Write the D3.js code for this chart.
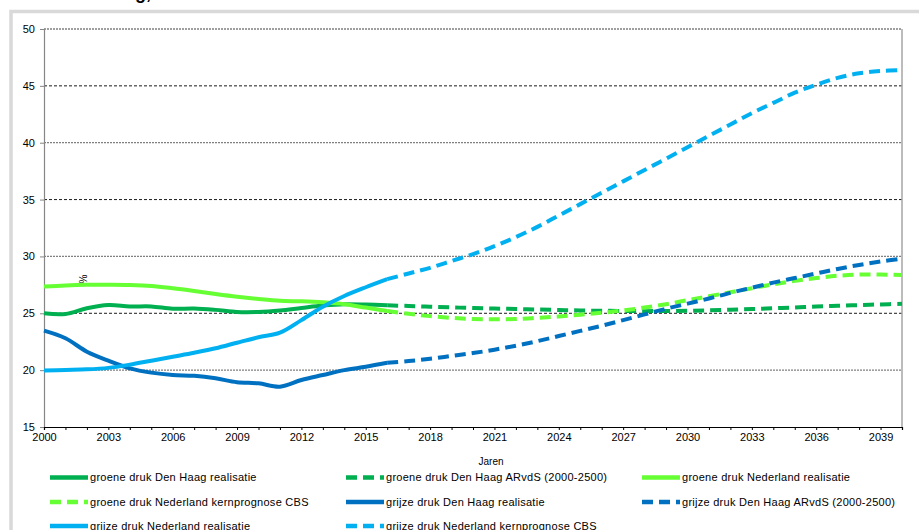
<!DOCTYPE html>
<html>
<head>
<meta charset="utf-8">
<script src="https://cdn.jsdelivr.net/npm/d3@7"></script>
<style>
  html, body { margin: 0; padding: 0; background: #fff; }
  svg { display: block; font-family: "Liberation Sans", Arial, sans-serif; }
</style>
</head>
<body>
<svg id="chart" width="919" height="530"></svg>
<script>
// ---- data ----
const yearsReal = [2000,2001,2002,2003,2004,2005,2006,2007,2008,2009,2010,2011,2012,2013,2014,2015,2016];
const yearsProj = [2016,2017,2018,2019,2020,2021,2022,2023,2024,2025,2026,2027,2028,2029,2030,2031,2032,2033,2034,2035,2036,2037,2038,2039,2040];

const groeneDHReal = [25.0,24.94,25.44,25.72,25.6,25.6,25.4,25.42,25.3,25.12,25.12,25.25,25.47,25.68,25.8,25.77,25.7];
const groeneDHProj = [25.7,25.64,25.58,25.52,25.46,25.42,25.38,25.33,25.29,25.25,25.22,25.2,25.19,25.2,25.22,25.26,25.31,25.37,25.44,25.51,25.6,25.66,25.72,25.78,25.84];
const groeneNLReal = [27.35,27.45,27.5,27.5,27.48,27.4,27.2,26.96,26.7,26.46,26.26,26.1,26.05,25.96,25.8,25.5,25.2];
const groeneNLProj = [25.2,24.95,24.75,24.6,24.5,24.47,24.5,24.6,24.72,24.88,25.05,25.25,25.5,25.8,26.15,26.5,26.85,27.2,27.55,27.85,28.1,28.3,28.4,28.4,28.37];
const grijzeDHReal = [23.47,22.8,21.62,20.83,20.16,19.78,19.57,19.5,19.28,18.93,18.84,18.55,19.13,19.57,20.0,20.3,20.65];
const grijzeDHProj = [20.65,20.8,21.0,21.25,21.5,21.8,22.15,22.55,23.0,23.45,23.9,24.4,24.9,25.4,25.85,26.3,26.8,27.25,27.7,28.1,28.5,28.9,29.25,29.55,29.8];
const grijzeNLReal = [19.97,20.02,20.07,20.2,20.48,20.83,21.18,21.53,21.92,22.41,22.89,23.3,24.4,25.58,26.52,27.29,28.0];
const grijzeNLProj = [28.0,28.5,29.0,29.6,30.2,30.9,31.7,32.6,33.6,34.6,35.6,36.6,37.6,38.6,39.6,40.6,41.6,42.6,43.5,44.4,45.1,45.7,46.1,46.3,46.4];

const seriesNames = [
  "groene druk Den Haag realisatie",
  "groene druk Den Haag ARvdS (2000-2500)",
  "groene druk Nederland realisatie",
  "groene druk Nederland kernprognose CBS",
  "grijze druk Den Haag realisatie",
  "grijze druk Den Haag ARvdS (2000-2500)",
  "grijze druk Nederland realisatie",
  "grijze druk Nederland kernprognose CBS"
];
const yTicks = [15,20,25,30,35,40,45,50];
const xTickLabels = [2000,2003,2006,2009,2012,2015,2018,2021,2024,2027,2030,2033,2036,2039];

// ---- build series ----
const colors = {gDH:"#00b050", gNL:"#66ff33", bDH:"#0070c0", bNL:"#00b0f0"};
const series = [
  {name: seriesNames[0], x: yearsReal, y: groeneDHReal, color: colors.gDH, dashed: false},
  {name: seriesNames[1], x: yearsProj, y: groeneDHProj, color: colors.gDH, dashed: true},
  {name: seriesNames[2], x: yearsReal, y: groeneNLReal, color: colors.gNL, dashed: false},
  {name: seriesNames[3], x: yearsProj, y: groeneNLProj, color: colors.gNL, dashed: true},
  {name: seriesNames[4], x: yearsReal, y: grijzeDHReal, color: colors.bDH, dashed: false},
  {name: seriesNames[5], x: yearsProj, y: grijzeDHProj, color: colors.bDH, dashed: true},
  {name: seriesNames[6], x: yearsReal, y: grijzeNLReal, color: colors.bNL, dashed: false},
  {name: seriesNames[7], x: yearsProj, y: grijzeNLProj, color: colors.bNL, dashed: true}
];

(function () {
const svg = d3.select("#chart");
const pLeft = 44, pRight = 902, pTop = 29, pBottom = 427;
const x = d3.scaleLinear().domain([2000, 2040]).range([pLeft, pRight]);
const y = d3.scaleLinear().domain([15, 50]).range([pBottom, pTop]);

// outer chart frame (cropped)
svg.append("rect").attr("x", 11).attr("y", 11.5).attr("width", 1000).attr("height", 1000)
  .attr("fill", "none").attr("stroke", "#d9d9d9").attr("stroke-width", 3.5);

// clipped title fragment
svg.append("text").attr("x", 135).attr("y", -1).attr("font-size", 18).attr("font-weight", "bold")
  .attr("fill", "#000").text("g,");

// gridlines
yTicks.filter(v => v > 15).forEach(v => {
  const odd = (v / 5) % 2 === 1;
  svg.append("line")
    .attr("x1", pLeft).attr("x2", pRight).attr("y1", y(v)).attr("y2", y(v))
    .attr("stroke", odd ? "#000" : "#808080")
    .attr("stroke-width", odd ? 0.9 : 1.3)
    .attr("stroke-dasharray", odd ? "3,2" : "2,1");
});

// right border
svg.append("line").attr("x1", pRight).attr("x2", pRight).attr("y1", pTop).attr("y2", pBottom + 1)
  .attr("stroke", "#a6a6a6").attr("stroke-width", 1.5);

// y axis
const yAxis = d3.axisLeft(y).tickValues(yTicks).tickSize(4).tickPadding(5).tickFormat(d3.format("d"));
const gy = svg.append("g").attr("transform", `translate(${pLeft},0)`).call(yAxis);
gy.select(".domain").attr("stroke", "#868686").attr("stroke-width", 1.2);
gy.selectAll(".tick line").attr("stroke", "#868686");
gy.selectAll("text").attr("font-size", 11).attr("fill", "#000").attr("font-family", "Liberation Sans, Arial, sans-serif");

// x axis
const xAxis = d3.axisBottom(x).tickValues(d3.range(2000, 2041)).tickSize(3).tickPadding(3)
  .tickFormat(d => xTickLabels.includes(d) ? String(d) : "");
const gx = svg.append("g").attr("transform", `translate(0,${pBottom})`).call(xAxis);
gx.select(".domain").attr("stroke", "#000").attr("stroke-width", 1.2);
gx.selectAll(".tick line").attr("stroke", "#000");
gx.selectAll("text").attr("font-size", 11).attr("fill", "#000").attr("font-family", "Liberation Sans, Arial, sans-serif");

// axis titles
svg.append("text").attr("x", 491).attr("y", 465).attr("text-anchor", "middle")
  .attr("font-size", 10).attr("fill", "#000").text("Jaren");
svg.append("text").attr("transform", "translate(87,279) rotate(-90)").attr("text-anchor", "middle")
  .attr("font-size", 10).attr("fill", "#000").text("%");

// lines
const line = d3.line().curve(d3.curveCatmullRom.alpha(0.5));
series.forEach(s => {
  const pts = s.x.map((xv, i) => [x(xv), y(s.y[i])]);
  svg.append("path").attr("d", line(pts))
    .attr("fill", "none").attr("stroke", s.color).attr("stroke-width", 4)
    .attr("stroke-dasharray", s.dashed ? "11,6" : null)
    .attr("stroke-linejoin", "round");
});

// legend
const legCols = [50, 346, 642];
const legRows = [477.5, 502, 526];
series.forEach((s, i) => {
  const cx = legCols[i % 3], cy = legRows[Math.floor(i / 3)];
  svg.append("line").attr("x1", cx).attr("x2", cx + 38).attr("y1", cy).attr("y2", cy)
    .attr("stroke", s.color).attr("stroke-width", 4.5)
    .attr("stroke-dasharray", s.dashed ? "11,6" : null);
  svg.append("text").attr("x", cx + 40).attr("y", cy).attr("dy", "0.35em")
    .attr("font-size", 11).attr("letter-spacing", "0.27px").attr("fill", "#000").text(s.name);
});
})();
</script>
</body>
</html>
